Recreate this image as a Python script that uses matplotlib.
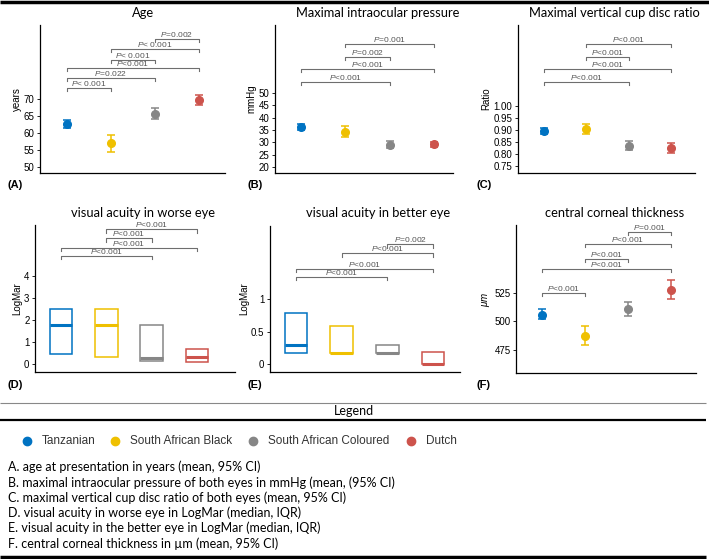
import numpy as np
import matplotlib
matplotlib.use("Agg")
import matplotlib.pyplot as plt

plt.rcParams['font.family'] = ['Liberation Sans', 'DejaVu Sans']
plt.rcParams['mathtext.fontset'] = 'custom'
plt.rcParams['mathtext.it'] = 'Liberation Sans:italic'
plt.rcParams['mathtext.rm'] = 'Liberation Sans'

groups = ['Tanzanian', 'South African Black', 'South African Coloured', 'Dutch']
colors = ['#0073C2', '#EFC000', '#868686', '#CD534C']
xpos = [1, 2, 3, 4]

# A. age
age_mean = [62.7, 57.0, 65.7, 69.7]
age_lo = [61.5, 54.5, 64.1, 68.3]
age_hi = [63.9, 59.5, 67.3, 71.2]
age_br = [(1, 2, 73.2, '< 0.001'), (1, 3, 76.2, '=0.022'), (1, 4, 79.1, '<0.001'),
          (2, 3, 81.6, '< 0.001'), (2, 4, 84.7, '< 0.001'), (3, 4, 87.6, '=0.002')]

# B. intraocular pressure
iop_mean = [36.3, 34.3, 29.0, 29.2]
iop_lo = [35.0, 32.0, 27.6, 28.2]
iop_hi = [37.5, 36.8, 30.5, 30.2]
iop_br = [(1, 3, 54.4, '<0.001'), (1, 4, 59.7, '<0.001'),
          (2, 3, 64.5, '=0.002'), (2, 4, 69.8, '=0.001')]

# C. cup disc ratio
cdr_mean = [0.895, 0.903, 0.833, 0.827]
cdr_lo = [0.884, 0.882, 0.815, 0.806]
cdr_hi = [0.907, 0.925, 0.855, 0.848]
cdr_br = [(1, 3, 1.100, '<0.001'), (1, 4, 1.154, '<0.001'),
          (2, 3, 1.204, '<0.001'), (2, 4, 1.258, '<0.001')]

# D. visual acuity worse eye (median, IQR)
vaw_q1 = [0.47, 0.32, 0.15, 0.10]
vaw_med = [1.75, 1.75, 0.28, 0.30]
vaw_q3 = [2.50, 2.50, 1.75, 0.70]
vaw_br = [(1, 3, 4.9, '<0.001'), (1, 4, 5.27, '<0.001'),
          (2, 3, 5.7, '<0.001'), (2, 4, 6.1, '<0.001')]

# E. visual acuity better eye (median, IQR)
vab_q1 = [0.17, 0.17, 0.17, 0.0]
vab_med = [0.29, 0.17, 0.17, 0.0]
vab_q3 = [0.78, 0.58, 0.29, 0.18]
vab_br = [(1, 3, 1.34, '<0.001'), (1, 4, 1.46, '<0.001'),
          (2, 4, 1.70, '<0.001'), (3, 4, 1.84, '=0.002')]

# F. central corneal thickness
cct_mean = [506, 487, 511, 528]
cct_lo = [502, 479, 505, 520]
cct_hi = [511, 496, 517, 536]
cct_br = [(1, 2, 525, '<0.001'), (1, 4, 546, '<0.001'), (2, 3, 555, '<0.001'),
          (2, 4, 568, '<0.001'), (3, 4, 578.5, '=0.001')]

W, H = 709, 559
fig = plt.figure(figsize=(W / 100, H / 100), dpi=100)


def add_ax(x0, y0, x1, y1):
    return fig.add_axes([x0 / W, (H - y1) / H, (x1 - x0) / W, (y1 - y0) / H])


def style(ax, title, ylabel, ticks, ticklabels, ylim, xlim, tag, tagx, tagy, titlex, titley):
    ax.set_ylim(*ylim)
    ax.set_xlim(*xlim)
    ax.set_xticks([])
    ax.set_yticks(ticks)
    ax.set_yticklabels(ticklabels)
    ax.tick_params(axis='y', labelsize=7, length=2.5, width=0.6, pad=1.5)
    for s in ['top', 'right']:
        ax.spines[s].set_visible(False)
    for s in ['left', 'bottom']:
        ax.spines[s].set_linewidth(0.9)
    fig.text(titlex / W, 1 - titley / H, title, fontsize=9.3,
             family=['Lato', 'DejaVu Sans'], ha='center', va='center')
    ax.set_ylabel(ylabel, fontsize=7, labelpad=1.5)
    fig.text(tagx / W, 1 - tagy / H, tag, fontsize=8, fontweight='bold',
             va='center', ha='left')


def brackets(ax, br, tip):
    for i, j, y, lab in br:
        ax.plot([i, i, j, j], [y - tip, y, y, y - tip], color='#6e6e6e', lw=0.8)
        ax.text((i + j) / 2, y, r'$\mathit{P}$' + lab, fontsize=6, color='#555555',
                ha='center', va='bottom')


def point_panel(ax, mean, lo, hi):
    for k in range(4):
        ax.errorbar(xpos[k], mean[k],
                    yerr=[[mean[k] - lo[k]], [hi[k] - mean[k]]],
                    fmt='o', color=colors[k], ms=5.5, capsize=3, elinewidth=1.1,
                    capthick=1.1)


def box_panel(ax, q1, med, q3):
    for k in range(4):
        ax.bar(xpos[k], q3[k] - q1[k], bottom=q1[k], width=0.5, fill=False,
               edgecolor=colors[k], linewidth=1.1)
        ax.hlines(med[k], xpos[k] - 0.25, xpos[k] + 0.25, color=colors[k], lw=2.2)


# A
ax = add_ax(40, 25, 225, 173)
point_panel(ax, age_mean, age_lo, age_hi)
brackets(ax, age_br, 0.9)
style(ax, 'Age', 'years', [50, 55, 60, 65, 70], ['50', '55', '60', '65', '70'],
      (48.2, 91.8), (0.39, 4.59), '(A)', 8, 185, 143, 13)

# B
ax = add_ax(275, 25, 453, 173)
point_panel(ax, iop_mean, iop_lo, iop_hi)
brackets(ax, iop_br, 1.2)
style(ax, 'Maximal intraocular pressure', 'mmHg', [20, 25, 30, 35, 40, 45, 50],
      ['20', '25', '30', '35', '40', '45', '50'],
      (17.6, 77.5), (0.41, 4.43), '(B)', 247, 185, 378, 13)

# C
ax = add_ax(518, 25, 695, 173)
point_panel(ax, cdr_mean, cdr_lo, cdr_hi)
brackets(ax, cdr_br, 0.012)
style(ax, 'Maximal vertical cup disc ratio', 'Ratio',
      [0.75, 0.80, 0.85, 0.90, 0.95, 1.00],
      ['0.75', '0.80', '0.85', '0.90', '0.95', '1.00'],
      (0.721, 1.3375), (0.385, 4.57), '(C)', 477, 185, 614, 13)

# D
ax = add_ax(35, 225, 235, 372)
box_panel(ax, vaw_q1, vaw_med, vaw_q3)
brackets(ax, vaw_br, 0.15)
style(ax, 'visual acuity in worse eye', 'LogMar', [0, 1, 2, 3, 4],
      ['0', '1', '2', '3', '4'], (-0.36, 6.3), (0.43, 4.84), '(D)', 8, 385, 143, 213)

# E
ax = add_ax(270, 226, 460, 372)
box_panel(ax, vab_q1, vab_med, vab_q3)
brackets(ax, vab_br, 0.05)
style(ax, 'visual acuity in better eye', 'LogMar', [0, 0.5, 1],
      ['0', '0.5', '1'], (-0.12, 2.12), (0.43, 4.59), '(E)', 247, 385, 378, 213)

# F
ax = add_ax(516, 225, 696, 373)
point_panel(ax, cct_mean, cct_lo, cct_hi)
brackets(ax, cct_br, 2.5)
style(ax, 'central corneal thickness', r'$\mathit{\mu m}$', [475, 500, 525],
      ['475', '500', '525'], (454.8, 584.6), (0.40, 4.58), '(F)', 477, 385, 615, 213)

# frame lines
line_ax = fig.add_axes([0, 0, 1, 1], zorder=-1)
line_ax.set_xlim(0, W)
line_ax.set_ylim(H, 0)
line_ax.axis('off')
line_ax.hlines(1.5, 0, W, color='black', lw=2.5)
line_ax.hlines(403, 0, 706, color='#888888', lw=0.8)
line_ax.hlines(420, 0, 706, color='black', lw=1.6)
line_ax.hlines(557, 0, 706, color='black', lw=2.5)
fig.text(354 / W, 1 - 411 / H, 'Legend', fontsize=9, family=['Lato', 'DejaVu Sans'],
         ha='center', va='center')

dot_x = [27, 115, 253, 411]
for k in range(4):
    line_ax.plot(dot_x[k], 441, 'o', color=colors[k], ms=6)
    fig.text((dot_x[k] + 15) / W, 1 - 441 / H, groups[k], fontsize=8.5,
             color='#333333', va='center', ha='left')

desc = [
    'A. age at presentation in years (mean, 95% CI)',
    'B. maximal intraocular pressure of both eyes in mmHg (mean, (95% CI)',
    'C. maximal vertical cup disc ratio of both eyes (mean, 95% CI)',
    'D. visual acuity in worse eye in LogMar (median, IQR)',
    'E. visual acuity in the better eye in LogMar (median, IQR)',
    'F. central corneal thickness in \u00b5m (mean, 95% CI)',
]
for n, line in enumerate(desc):
    fig.text(8 / W, 1 - (467 + n * 15.3) / H, line, fontsize=9,
             family=['Lato', 'DejaVu Sans'], va='center', ha='left')

fig.savefig('out.png', dpi=100)
